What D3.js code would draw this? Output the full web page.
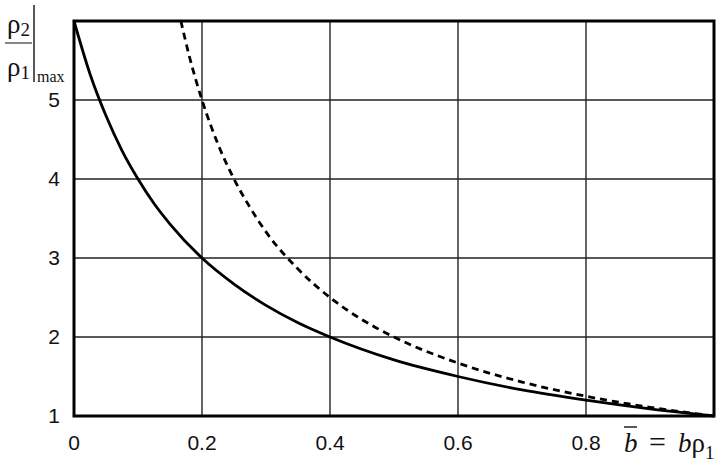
<!DOCTYPE html>
<html lang="en">
<head>
<meta charset="utf-8">
<script src="https://d3js.org/d3.v7.min.js"></script>
<style>
  body { margin: 0; background: white; }
  svg { font-family: Arial, 'Liberation Sans', sans-serif; }
  .grid line { stroke: #222; stroke-width: 1.4px; }
  .frame { fill: none; stroke: black; stroke-width: 3px; }
  .tick-label { fill: #111; }
  .math text { font-family: 'Liberation Serif', 'Times New Roman', serif; fill: #111; }
</style>
</head>
<body>
<svg width="724" height="470"></svg>
<script>
// values
const xTicks = [0, 0.2, 0.4, 0.6, 0.8];
const yTicks = [1, 2, 3, 4, 5];

const solidX = [0, 0.025, 0.05, 0.075, 0.1, 0.125, 0.15, 0.2, 0.25, 0.3, 0.35, 0.4, 0.5, 0.6, 0.7, 0.8, 0.9, 1.0];
const solidY = [6, 5.33, 4.8, 4.36, 4, 3.69, 3.43, 3, 2.67, 2.4, 2.18, 2, 1.71, 1.5, 1.33, 1.2, 1.09, 1.0];

const dashX = [0.167, 0.18, 0.2, 0.225, 0.25, 0.275, 0.3, 0.35, 0.4, 0.45, 0.5, 0.6, 0.7, 0.8, 0.9, 1.0];
const dashY = [6, 5.56, 5, 4.44, 4, 3.64, 3.33, 2.86, 2.5, 2.22, 2, 1.67, 1.43, 1.25, 1.11, 1.0];

const margin = {top: 21, right: 10, bottom: 54, left: 74};
const width = 714 - margin.left, height = 416 - margin.top;

const x = d3.scaleLinear().domain([0, 1]).range([0, width]);
const y = d3.scaleLinear().domain([1, 6]).range([height, 0]);

const svg = d3.select("svg");
const g = svg.append("g").attr("transform", `translate(${margin.left},${margin.top})`);

// grid
const grid = g.append("g").attr("class", "grid");
grid.selectAll("line.v").data(xTicks.filter(d => d > 0)).join("line")
  .attr("class", "v")
  .attr("x1", d => x(d)).attr("x2", d => x(d))
  .attr("y1", 0).attr("y2", height);
grid.selectAll("line.h").data(yTicks.filter(d => d > 1)).join("line")
  .attr("class", "h")
  .attr("x1", 0).attr("x2", width)
  .attr("y1", d => y(d)).attr("y2", d => y(d));

// curves
const line = d3.line().x(d => x(d[0])).y(d => y(d[1])).curve(d3.curveMonotoneX);
g.append("path")
  .datum(solidX.map((v, i) => [v, solidY[i]]))
  .attr("d", line)
  .attr("fill", "none").attr("stroke", "black").attr("stroke-width", 2.8);
g.append("path")
  .datum(dashX.map((v, i) => [v, dashY[i]]))
  .attr("d", line)
  .attr("fill", "none").attr("stroke", "black").attr("stroke-width", 2.8)
  .attr("stroke-dasharray", "7,5");

g.append("rect").attr("class", "frame")
  .attr("x", 0).attr("y", 0).attr("width", width).attr("height", height);

// tick labels
g.selectAll("text.yl").data(yTicks).join("text")
  .attr("class", "tick-label yl")
  .style("font-size", "21px")
  .attr("x", -14).attr("y", d => y(d) + 7)
  .attr("text-anchor", "end")
  .text(d => d);
g.selectAll("text.xl").data(xTicks).join("text")
  .attr("class", "tick-label xl")
  .style("font-size", "21px")
  .attr("x", d => x(d)).attr("y", height + 34)
  .attr("text-anchor", "middle")
  .text(d => d);

// y label: rho2 / rho1 |max
const yl = svg.append("g").attr("class", "math");
yl.append("text").attr("x", 7).attr("y", 33).attr("font-size", 27).text("ρ")
  .append("tspan").attr("font-size", 19).attr("dy", 3).text("2");
yl.append("line").attr("x1", 5).attr("x2", 32).attr("y1", 43).attr("y2", 43)
  .attr("stroke", "#444").attr("stroke-width", 1.3);
yl.append("text").attr("x", 7).attr("y", 76).attr("font-size", 27).text("ρ")
  .append("tspan").attr("font-size", 19).attr("dy", 3).text("1");
yl.append("line").attr("x1", 34).attr("x2", 34).attr("y1", 5).attr("y2", 82)
  .attr("stroke", "#111").attr("stroke-width", 1.4);
yl.append("text").attr("x", 37).attr("y", 82).attr("font-size", 16).text("max");

// x label: b-bar = b rho1
const xl = svg.append("g").attr("class", "math");
xl.append("text").attr("x", 624).attr("y", 452).attr("font-size", 27)
  .attr("font-style", "italic").text("b");
xl.append("line").attr("x1", 624).attr("x2", 637).attr("y1", 427).attr("y2", 427)
  .attr("stroke", "#111").attr("stroke-width", 1.4);
xl.append("text").attr("x", 649).attr("y", 452).attr("font-size", 30).text("=");
xl.append("text").attr("x", 678).attr("y", 452).attr("font-size", 27)
  .html('<tspan font-style="italic">b</tspan>ρ<tspan font-size="19" dy="7">1</tspan>');
</script>
</body>
</html>
